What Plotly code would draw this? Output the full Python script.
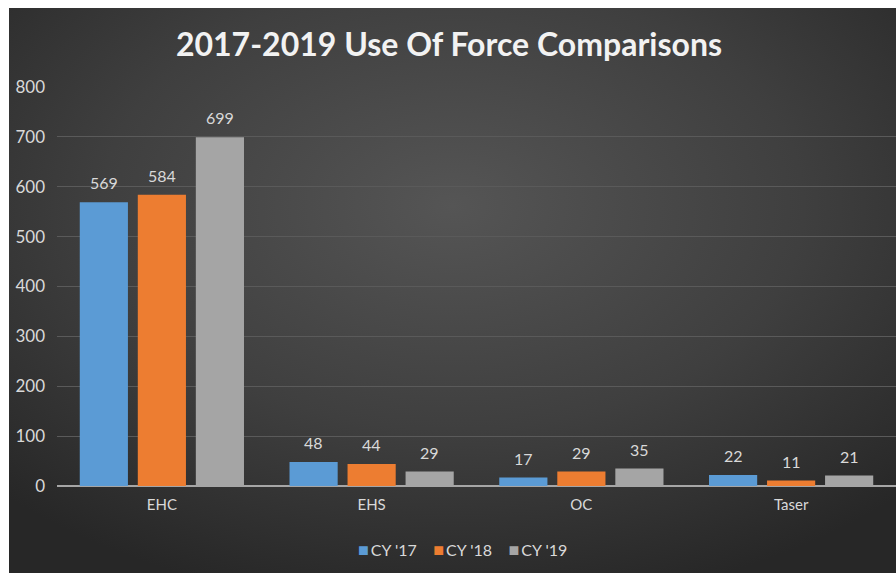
import base64
import plotly.graph_objects as go

categories = ["EHC", "EHS", "OC", "Taser"]
series_names = ["CY '17", "CY '18", "CY '19"]
cy17 = [569, 48, 17, 22]
cy18 = [584, 44, 29, 11]
cy19 = [699, 29, 35, 21]
colors = ["#5B9BD5", "#ED7D31", "#A5A5A5"]
y_ticks = [0, 100, 200, 300, 400, 500, 600, 700, 800]

W, H = 896, 573
ML, MR, MT, MB = 57, 0, 87, 87
FONT = "Lato"

svg = f'''<svg xmlns="http://www.w3.org/2000/svg" width="887" height="565" viewBox="0 0 887 565" preserveAspectRatio="none">
<defs><radialGradient id="g" cx="50%" cy="35%" r="72%">
<stop offset="0%" stop-color="#555555"/><stop offset="55%" stop-color="#3f3f3f"/><stop offset="100%" stop-color="#272727"/>
</radialGradient></defs><rect width="887" height="565" fill="url(#g)"/></svg>'''
bg_src = "data:image/svg+xml;base64," + base64.b64encode(svg.encode()).decode()

pw = W - ML - MR
ph = H - MT - MB

fig = go.Figure()
for name, vals, col in zip(series_names, [cy17, cy18, cy19], colors):
    fig.add_trace(go.Bar(
        x=categories, y=vals, name=name,
        marker=dict(color=col, line=dict(color=col, width=0)),
        showlegend=False,
    ))

# data labels
offsets = [-58, 0, 58]
for vals, off in zip([cy17, cy18, cy19], offsets):
    for c, v in zip(categories, vals):
        fig.add_annotation(x=c, y=v, text=str(v), showarrow=False,
                           xshift=off, yshift=8, yanchor="bottom",
                           font=dict(family=FONT, size=16, color="#d9d9d9"))

# legend (compact, like the original)
legend_text = "&nbsp;&nbsp;&nbsp;&nbsp;".join(
    f'<span style="color:{c};font-size:18px">■</span>&#8201;{n}' for n, c in zip(series_names, colors))
fig.add_annotation(xref="paper", yref="paper", x=(462 - ML) / pw, y=-(549 - (H - MB)) / ph,
                   xanchor="center", yanchor="middle", showarrow=False, text=legend_text,
                   font=dict(family=FONT, size=16, color="#d9d9d9"))

x0 = (9 - ML) / pw
y_top = 1 + (MT - 8) / ph
y_bot = -MB / ph
fig.add_layout_image(dict(source=bg_src, xref="paper", yref="paper",
                          x=x0, y=y_top, sizex=1 - x0, sizey=y_top - y_bot,
                          sizing="stretch", layer="below", xanchor="left", yanchor="top"))

fig.update_layout(
    width=W, height=H,
    margin=dict(l=ML, r=MR, t=MT, b=MB, pad=0),
    paper_bgcolor="white", plot_bgcolor="rgba(0,0,0,0)",
    barmode="group", bargap=0.17, bargroupgap=0.17,
    showlegend=False,
    title=dict(text="<b>2017-2019 Use Of Force Comparisons</b>", x=449 / W, xref="container",
               xanchor="center", y=1 - 45 / H, yref="container", yanchor="middle",
               font=dict(family=FONT, size=32, color="#f2f2f2")),
    font=dict(family=FONT, color="#d9d9d9"),
    xaxis=dict(showgrid=False, showline=False, ticks="", ticklabelstandoff=8,
               tickfont=dict(family=FONT, size=15, color="#d9d9d9"), zeroline=False, fixedrange=True),
    yaxis=dict(range=[0, 800], tickvals=y_ticks, showgrid=True, gridcolor="#5a5a5a", gridwidth=1,
               zeroline=True, zerolinecolor="#a6a6a6", zerolinewidth=2, showline=False,
               ticks="", ticklabelstandoff=11,
               tickfont=dict(family=FONT, size=17, color="#d9d9d9")),
)

fig.write_html("out.html", config={"displayModeBar": False},
               post_script="document.body.style.margin='0';document.body.style.padding='0';")
